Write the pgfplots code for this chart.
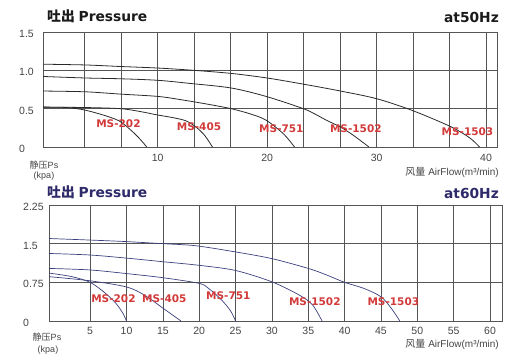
\documentclass[border=0pt]{standalone}
\usepackage{pgfplots}
\pgfplotsset{compat=1.18}
\usepackage{fontspec}
\setmainfont{Liberation Sans}
\newfontfamily\cjk{Noto Sans CJK SC}
\newfontfamily\dvb{DejaVu Sans Bold}
\definecolor{gridc}{HTML}{555555}
\definecolor{tickc}{HTML}{444444}
\definecolor{curveA}{HTML}{2A2A2A}
\definecolor{curveB}{HTML}{3B3F7C}
\definecolor{labred}{HTML}{D23A3A}
\definecolor{titleA}{HTML}{1A1A1A}
\definecolor{titleB}{HTML}{2E2A6A}
\tikzset{lab/.style={font=\dvb\fontsize{10.5bp}{12bp}\selectfont, text=labred, inner sep=0pt}}
\pgfplotsset{common/.style={scale only axis, anchor=south west,
  axis line style={draw=gridc, line width=0.8pt},
  grid=major, major grid style={draw=gridc, line width=0.7pt},
  major tick length=0pt,
  tick label style={font=\fontsize{10.5bp}{12bp}\selectfont, text=tickc},
  /pgf/number format/assume math mode=true,
  xticklabel style={inner sep=0pt, anchor=north},
  yticklabel style={inner sep=0pt, anchor=west, yshift=-2bp}}}
\begin{document}
\begin{tikzpicture}[x=1bp,y=1bp]
\path[use as bounding box] (0,0) rectangle (509,356);

% ---------- 50 Hz ----------
\begin{axis}[common, at={(43bp,209bp)}, width=454bp, height=115bp,
  xmin=-0.48, xmax=41.0, ymin=0, ymax=1.5,
  xtick={3.333,6.667,10,13.333,16.667,20,23.333,26.667,30,33.333,36.667,40},
  xticklabels={,,10,,,20,,,30,,,40},
  ytick={0,0.5,1,1.5}, yticklabels={0,0.5,1.0,1.5},
  xticklabel style={yshift=-7bp}, yticklabel style={xshift=-24bp}]
\addplot[curveA, line width=0.8pt, smooth, tension=0.5] coordinates {
 (-0.48,0.52) (1.7,0.515) (3.4,0.48) (5.4,0.40) (6.6,0.33) (7.7,0.20) (8.4,0.10) (9.0,0)};
\addplot[curveA, line width=0.8pt, smooth, tension=0.5] coordinates {
 (-0.48,0.52) (3.3,0.515) (6.6,0.50) (8.5,0.46) (9.9,0.42) (11.5,0.38) (12.6,0.34) (13.5,0.26) (14.3,0.15) (15.0,0)};
\addplot[curveA, line width=0.8pt, smooth, tension=0.5] coordinates {
 (-0.48,0.73) (3.4,0.72) (6.6,0.69) (10,0.66) (12,0.62) (14.5,0.56) (16.7,0.50) (18.5,0.43) (19.9,0.35) (21.5,0.17) (22.5,0)};
\addplot[curveA, line width=0.8pt, smooth, tension=0.5] coordinates {
 (-0.48,0.92) (3.4,0.90) (6.6,0.89) (10,0.87) (12.9,0.83) (16.7,0.77) (19.9,0.66) (23.3,0.50) (24.5,0.42) (25.4,0.35) (26.7,0.26) (27.8,0.16) (29.3,0)};
\addplot[curveA, line width=0.8pt, smooth, tension=0.5] coordinates {
 (-0.48,1.08) (3.4,1.07) (6.6,1.05) (10,1.03) (13.3,1.0) (16.7,0.96) (20,0.90) (23.3,0.82) (26.7,0.73) (30,0.63) (33.2,0.48) (36.7,0.27) (38.5,0.12) (39.4,0)};
\node[lab] at (axis cs:6.41,0.30) {MS-202};
\node[lab] at (axis cs:13.77,0.27) {MS-405};
\node[lab] at (axis cs:21.3,0.235) {MS-751};
\node[lab] at (axis cs:28.1,0.235) {MS-1502};
\node[lab] at (axis cs:38.3,0.195) {MS-1503};
\end{axis}

% ---------- 60 Hz ----------
\begin{axis}[common, at={(49bp,35bp)}, width=453bp, height=116bp,
  xmin=-0.66, xmax=61.65, ymin=0, ymax=2.25,
  xtick={5,10,...,60},
  ytick={0,0.75,1.5,2.25}, yticklabels={0,0.75,1.5,2.25},
  xticklabel style={yshift=-6bp}, yticklabel style={xshift=-26bp}]
\addplot[curveB, line width=0.7pt, smooth, tension=0.5] coordinates {
 (-0.66,0.93) (2.5,0.86) (5,0.75) (7,0.55) (8.5,0.35) (9.5,0.15) (10,0)};
\addplot[curveB, line width=0.7pt, smooth, tension=0.5] coordinates {
 (-0.66,0.86) (5,0.78) (10,0.66) (12.5,0.50) (15,0.25) (16.5,0.10) (17.5,0)};
\addplot[curveB, line width=0.7pt, smooth, tension=0.5] coordinates {
 (-0.66,1.02) (5,0.99) (10,0.92) (15,0.84) (20,0.73) (21.3,0.63) (23.0,0.42) (24.3,0.20) (25,0)};
\addplot[curveB, line width=0.7pt, smooth, tension=0.5] coordinates {
 (-0.66,1.31) (5,1.28) (10,1.22) (15,1.15) (20,1.08) (25,0.98) (30,0.76) (33.8,0.50) (35.6,0.31) (36.9,0)};
\addplot[curveB, line width=0.7pt, smooth, tension=0.5] coordinates {
 (-0.66,1.60) (5,1.57) (10,1.54) (15,1.50) (19.5,1.46) (25,1.34) (30,1.21) (35,1.02) (37.4,0.90) (40,0.75) (42.7,0.63) (45,0.47) (46.4,0.25) (47.6,0)};
\node[lab] at (axis cs:8.2,0.43) {MS-202};
\node[lab] at (axis cs:15.2,0.43) {MS-405};
\node[lab] at (axis cs:24.0,0.49) {MS-751};
\node[lab] at (axis cs:35.9,0.37) {MS-1502};
\node[lab] at (axis cs:46.7,0.37) {MS-1503};
\end{axis}

% ---------- texts ----------
\node[anchor=west, inner sep=0pt, text=titleA, font=\fontsize{13.8bp}{15bp}\selectfont] at (47,340) {{\cjk\bfseries 吐出} {\dvb Pressure}};
\node[anchor=east, inner sep=0pt, text=titleA, font=\dvb\fontsize{13.8bp}{15bp}\selectfont] at (499,339) {at50Hz};
\node[anchor=west, inner sep=0pt, text=titleB, font=\fontsize{13.8bp}{15bp}\selectfont] at (47,164) {{\cjk\bfseries 吐出} {\dvb Pressure}};
\node[anchor=east, inner sep=0pt, text=titleB, font=\dvb\fontsize{13.8bp}{15bp}\selectfont] at (499,163) {at60Hz};

\node[inner sep=0pt, text=tickc, font=\fontsize{9bp}{10bp}\selectfont] at (44,191) {{\cjk 静压}Ps};
\node[inner sep=0pt, text=tickc, font=\fontsize{9bp}{10bp}\selectfont] at (44,180) {(kpa)};
\node[inner sep=0pt, text=tickc, font=\fontsize{9bp}{10bp}\selectfont] at (47,19) {{\cjk 静压}Ps};
\node[inner sep=0pt, text=tickc, font=\fontsize{9bp}{10bp}\selectfont] at (48,6) {(kpa)};

\node[anchor=east, inner sep=0pt, text=tickc, font=\fontsize{10bp}{11bp}\selectfont] at (499,184) {{\cjk 风量} AirFlow(m³/min)};
\node[anchor=east, inner sep=0pt, text=tickc, font=\fontsize{10bp}{11bp}\selectfont] at (499,12) {{\cjk 风量} AirFlow(m³/min)};
\end{tikzpicture}
\end{document}
